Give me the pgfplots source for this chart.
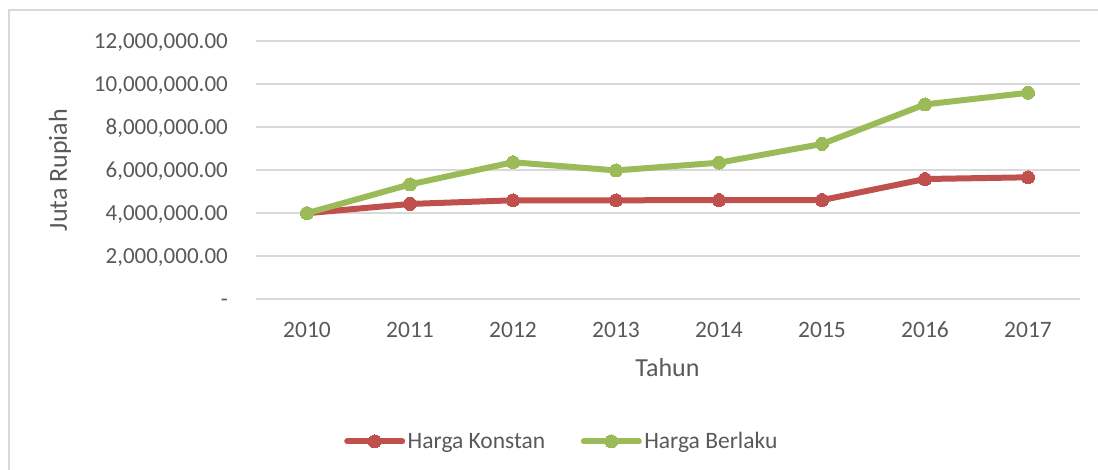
\documentclass[border=0pt]{standalone}
\usepackage{fontspec}
\setmainfont{Carlito}
\usepackage{pgfplots}
\pgfplotsset{compat=1.18}
\definecolor{cred}{HTML}{C0504D}
\definecolor{cgreen}{HTML}{9BBB59}
\definecolor{tc}{HTML}{595959}
\definecolor{gc}{HTML}{D9D9D9}
\begin{document}
\begin{tikzpicture}[x=1pt,y=1pt]
\path[use as bounding box] (0,0) rectangle (1098,470);
\draw[gc, line width=1.2pt] (9,0) -- (9,460) -- (1098,460);
\begin{axis}[
  at={(255.5pt,171pt)}, anchor=south west,
  scale only axis, width=824pt, height=258pt,
  xmin=-0.5, xmax=7.5, ymin=0, ymax=12000000,
  xtick={0,1,2,3,4,5,6,7},
  xticklabels={2010,2011,2012,2013,2014,2015,2016,2017},
  ytick={0,2000000,4000000,6000000,8000000,10000000,12000000},
  yticklabels={{-\hspace{11pt}},{2,000,000.00},{4,000,000.00},{6,000,000.00},{8,000,000.00},{10,000,000.00},{12,000,000.00}},
  scaled y ticks=false,
  ymajorgrids, grid style={gc, line width=1.5pt},
  axis line style={draw=none}, major tick length=0pt, tick style={draw=none},
  xticklabel style={font=\fontsize{23.5}{28}\selectfont, text=tc, anchor=base, inner sep=0pt, yshift=-39pt},
  yticklabel style={font=\fontsize{23}{28}\selectfont, text=tc, anchor=base east, inner sep=0pt, xshift=-27.5pt, yshift=-7.3pt},
  xlabel={Tahun}, ylabel={Juta Rupiah},
  xlabel style={font=\fontsize{26}{30}\selectfont, text=tc, at={(axis description cs:0.5,-0.3023)}, anchor=base, inner sep=0pt},
  ylabel style={font=\fontsize{26}{30}\selectfont, text=tc, at={(axis description cs:-0.2373,0.5)}, anchor=center, rotate=0, inner sep=0pt},
  legend columns=2,
  legend style={at={(axis description cs:0.372,-0.552)}, anchor=center, draw=none, fill=none,
    font=\fontsize{23.5}{28}\selectfont, text=tc,
    /tikz/every even column/.append style={column sep=33pt},
    /tikz/every odd column/.append style={column sep=0pt},
    nodes={inner sep=2.5pt}},
  legend image code/.code={
    \draw[mark repeat=2,mark phase=2,#1, line cap=round] plot coordinates {(0pt,0pt) (27.5pt,0pt) (55pt,0pt)};},
  every axis plot/.append style={line width=6pt, mark=*, mark size=6.5pt, mark options={solid}},
]
\addplot[cred, mark options={fill=cred, draw=cred, line width=0pt}] coordinates {
  (0,3990000) (1,4420000) (2,4590000) (3,4590000) (4,4600000) (5,4600000) (6,5580000) (7,5660000)};
\addlegendentry{Harga Konstan}
\addplot[cgreen, mark options={fill=cgreen, draw=cgreen, line width=0pt}] coordinates {
  (0,3990000) (1,5330000) (2,6360000) (3,5980000) (4,6340000) (5,7210000) (6,9050000) (7,9590000)};
\addlegendentry{Harga Berlaku}
\end{axis}
\end{tikzpicture}
\end{document}
